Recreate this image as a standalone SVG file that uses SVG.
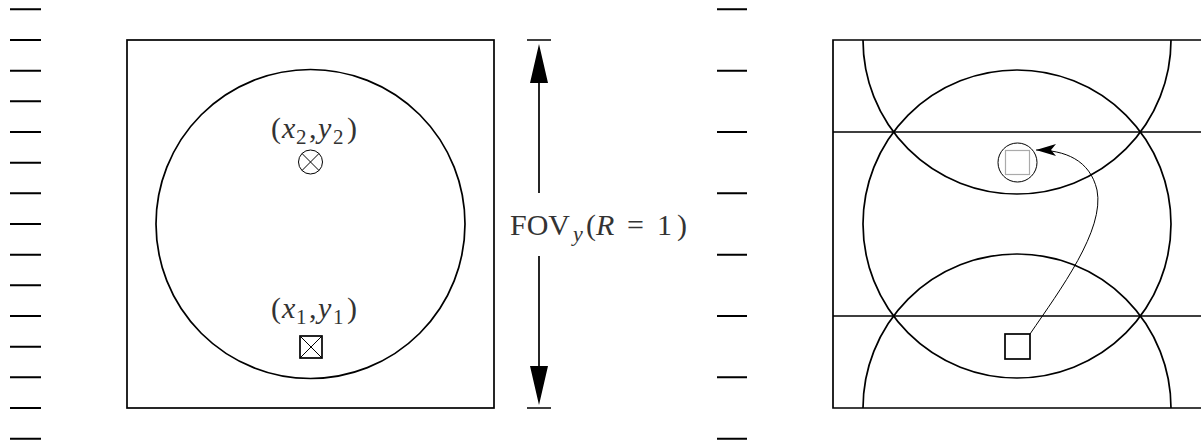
<svg xmlns="http://www.w3.org/2000/svg" width="1201" height="445" viewBox="0 0 1201 445">
<style>
.tick{stroke:#000;stroke-width:2;fill:none}
.frame{stroke:#000;stroke-width:1.7;fill:none}
.thin{stroke:#000;stroke-width:1;fill:none}
.t{font-family:"Liberation Serif","DejaVu Serif",serif;font-size:30px;fill:#333}
.it{font-style:italic}
.sub{font-size:21px}
</style>
<defs>
<marker id="ah" markerWidth="22" markerHeight="12" refX="20" refY="6" orient="auto" markerUnits="userSpaceOnUse">
<path d="M0,0 L20,6 L0,12 L5,6 Z" fill="#000"/>
</marker>
</defs>
<g id="ticks-left">
<path class="tick" d="M10,9.3H41M10,40H41M10,70.7H41M10,101.3H41M10,132H41M10,162.7H41M10,193.3H41M10,224H41M10,254.7H41M10,285.3H41M10,316H41M10,346.7H41M10,377.3H41M10,408H41M10,438.7H41"/>
</g>
<g id="ticks-right">
<path class="tick" d="M717,9.3H747M717,70.7H747M717,132H747M717,193.3H747M717,254.7H747M717,316H747M717,377.3H747M717,438.7H747"/>
</g>
<g id="left-panel">
<rect class="frame" x="127" y="40" width="367" height="368"/>
<circle class="frame" cx="310.5" cy="224" r="154.5"/>
</g>
<g id="p2">
<text class="t" y="138"><tspan x="271">(</tspan><tspan x="282" class="it">x</tspan><tspan x="296" class="sub" dy="6">2</tspan><tspan x="309" dy="-6">,</tspan><tspan x="318" class="it">y</tspan><tspan x="333" class="sub" dy="6">2</tspan><tspan x="347" dy="-6">)</tspan></text>
<circle class="thin" cx="310.5" cy="162" r="12"/>
<path class="thin" d="M302,153.5L319,170.5M319,153.5L302,170.5"/>
</g>
<g id="p1">
<text class="t" y="318"><tspan x="271">(</tspan><tspan x="282" class="it">x</tspan><tspan x="296" class="sub" dy="6">1</tspan><tspan x="309" dy="-6">,</tspan><tspan x="318" class="it">y</tspan><tspan x="333" class="sub" dy="6">1</tspan><tspan x="347" dy="-6">)</tspan></text>
<rect class="frame" x="300" y="336" width="22" height="22"/>
<path class="thin" d="M300,336L322,358M322,336L300,358"/>
</g>
<g id="fov">
<path class="frame" d="M527,40H551M527,408H551"/>
<path class="frame" d="M539,80V193M539,256V372"/>
<path d="M539,44L548,83H530Z M539,405L548,366H530Z" fill="#000"/>
<text class="t" y="235" font-size="31"><tspan x="510">FOV</tspan><tspan x="573" class="it" font-size="22" dy="6">y</tspan><tspan x="586" dy="-6">(</tspan><tspan x="596" class="it">R</tspan><tspan x="627">=</tspan><tspan x="657">1</tspan><tspan x="677">)</tspan></text>
</g>
<g id="right-panel">
<path class="frame" d="M1201,40H833V408H1201M833,132H1201M833,316H1201"/>
<circle class="frame" cx="1017" cy="224" r="154"/>
<path class="frame" d="M863,40A154,154 0 0 0 1171,40"/>
<path class="frame" d="M863,408A154,154 0 0 1 1171,408"/>
</g>
<g id="target">
<circle class="thin" cx="1017.5" cy="162.5" r="19.5"/>
<rect x="1005.5" y="150.5" width="24" height="24" fill="none" stroke="#aaa" stroke-width="1.2"/>
</g>
<g id="source">
<rect class="frame" x="1005" y="334" width="25" height="25"/>
</g>
<g id="connectors">
<path class="thin" d="M1030,334C1060,290 1105,230 1097,190C1090,160 1065,150 1036,150" marker-end="url(#ah)"/>
</g>
</svg>
